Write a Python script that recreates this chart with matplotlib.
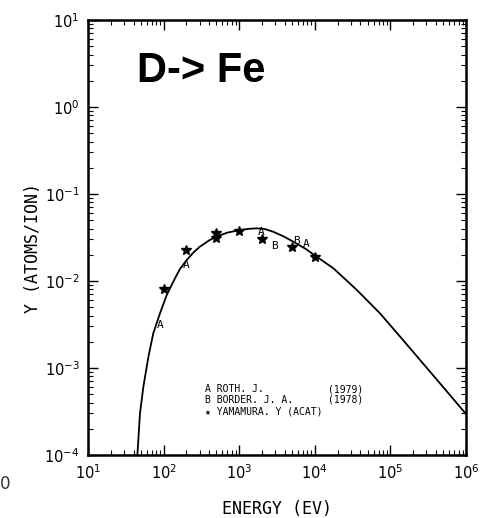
import numpy as np
import matplotlib.pyplot as plt

# calculated yield curve
curve_e = [45, 48.7, 54, 63, 73, 89.6, 110, 138, 165, 202, 250, 302, 400, 500,
           700, 1020, 1350, 1700, 2200, 2800, 3800, 5200, 7500, 10600, 17600,
           35900, 72800, 1.34e5, 2.46e5, 4.5e5, 1e6]
curve_y = [1.0e-4, 3.0e-4, 6.1e-4, 1.35e-3, 2.5e-3, 4.25e-3, 6.9e-3, 1.03e-2,
           1.38e-2, 1.74e-2, 2.14e-2, 2.48e-2, 2.93e-2, 3.24e-2, 3.6e-2,
           3.85e-2, 3.98e-2, 4.03e-2, 3.95e-2, 3.69e-2, 3.28e-2, 2.83e-2,
           2.35e-2, 1.9e-2, 1.4e-2, 7.9e-3, 4.25e-3, 2.3e-3, 1.24e-3, 6.7e-4,
           2.96e-4]

# Yamamura (ACAT) points
star_e = [100, 200, 500, 500, 1000, 2000, 5000, 10000]
star_y = [0.0081, 0.0227, 0.0353, 0.031, 0.038, 0.030, 0.0248, 0.0187]

# Roth (A) and Border (B) experimental points
roth_e = [91, 196, 1930, 7800]
roth_y = [0.0031, 0.0153, 0.037, 0.0264]
border_e = [2900, 5800]
border_y = [0.0252, 0.029]

mono = ['DejaVu Sans Mono', 'DejaVu Sans']

fig = plt.figure(figsize=(4.91, 5.18), dpi=100)
ax = fig.add_axes([88 / 491, 1 - 455 / 518, 378 / 491, 435 / 518])

ax.plot(curve_e, curve_y, color='black', lw=1.3)
ax.plot(star_e, star_y, ls='none', marker='*', ms=7.5, color='black')
for e, y in zip(roth_e, roth_y):
    ax.text(e, y, 'A', family=mono, fontsize=8, ha='center', va='center')
for e, y in zip(border_e, border_y):
    ax.text(e, y, 'B', family=mono, fontsize=8, ha='center', va='center')

ax.set_xscale('log')
ax.set_yscale('log')
ax.set_xlim(1e1, 1e6)
ax.set_ylim(1e-4, 1e1)

ax.tick_params(which='both', direction='in', top=True, right=True)
ax.tick_params(which='major', length=7, width=1, labelsize=10.5, pad=6)
ax.tick_params(which='minor', length=3.5, width=0.8)
for s in ax.spines.values():
    s.set_linewidth(1.8)

ax.set_xlabel('ENERGY (EV)', family=mono, fontsize=12, va='center')
ax.set_ylabel('Y (ATOMS/ION)', family=mono, fontsize=12, va='center')
ax.xaxis.set_label_coords(0.5, (455 - 509) / 435)
ax.yaxis.set_label_coords((33 - 88) / 378, (455 - 248) / 435)

ax.text(137, 518 - 82, 'D-> Fe', transform=None, fontsize=30,
        fontweight='bold', family='Liberation Sans')

# legend block
leg = [('A ROTH. J.', '(1979)'), ('B BORDER. J. A.', '(1978)'),
       ('\u2605 YAMAMURA. Y (ACAT)', '')]
for i, (name, yr) in enumerate(leg):
    yy = 1 - (389 + 11 * i - 20) / 435
    ax.text((205 - 88) / 378, yy, name, transform=ax.transAxes,
            family=mono, fontsize=7, va='center')
    if yr:
        ax.text((328 - 88) / 378, yy, yr, transform=ax.transAxes,
                family=mono, fontsize=7, va='center')

fig.text(0.0, 1 - 484 / 518, '0', fontsize=12, va='center', color='#333333')

fig.savefig('out.png', dpi=100)
